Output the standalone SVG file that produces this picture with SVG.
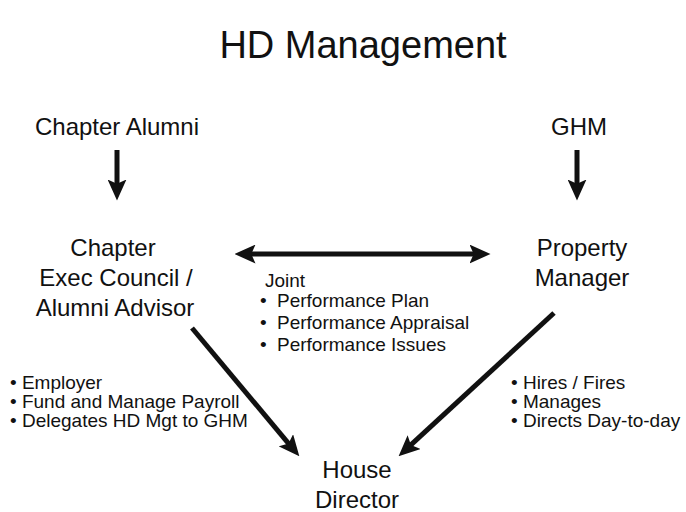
<svg xmlns="http://www.w3.org/2000/svg" width="686" height="512" viewBox="0 0 686 512">
  <defs>
    <style>
      text { font-family: "Liberation Sans", Arial, sans-serif; fill: #111; }
      .title { font-size: 38px; text-anchor: middle; }
      .label { font-size: 24px; text-anchor: middle; }
      .item { font-size: 19px; }
      .conn { stroke: #111; stroke-width: 5; fill: none; }
    </style>
    <marker id="head" viewBox="0 0 20 18" refX="10" refY="9" markerWidth="21" markerHeight="19" markerUnits="userSpaceOnUse" orient="auto-start-reverse">
      <path d="M0,0 L20,9 L0,18 L4,9 z" fill="#111"/>
    </marker>
  </defs>
  <rect width="686" height="512" fill="#fff"/>

  <text class="title" x="363" y="58">HD Management</text>

  <g id="chapter-alumni">
    <text class="label" x="117" y="135">Chapter Alumni</text>
  </g>
  <g id="ghm">
    <text class="label" x="579" y="135">GHM</text>
  </g>
  <g id="chapter-exec">
    <text class="label" x="113" y="256">Chapter</text>
    <text class="label" x="116" y="286">Exec Council /</text>
    <text class="label" x="115" y="316">Alumni Advisor</text>
  </g>
  <g id="property-manager">
    <text class="label" x="582" y="256">Property</text>
    <text class="label" x="582" y="286">Manager</text>
  </g>
  <g id="house-director">
    <text class="label" x="357" y="478">House</text>
    <text class="label" x="357" y="508">Director</text>
  </g>

  <g id="joint-notes">
    <text class="item" x="265" y="287">Joint</text>
    <text class="item" x="260" y="307">•</text>
    <text class="item" x="277" y="307">Performance Plan</text>
    <text class="item" x="260" y="329">•</text>
    <text class="item" x="277" y="329">Performance Appraisal</text>
    <text class="item" x="260" y="351">•</text>
    <text class="item" x="277" y="351">Performance Issues</text>
  </g>

  <g id="chapter-duties">
    <text class="item" x="10" y="389">• Employer</text>
    <text class="item" x="10" y="408">• Fund and Manage Payroll</text>
    <text class="item" x="10" y="427">• Delegates HD Mgt to GHM</text>
  </g>

  <g id="manager-duties">
    <text class="item" x="511" y="389">• Hires / Fires</text>
    <text class="item" x="511" y="408">• Manages</text>
    <text class="item" x="511" y="427">• Directs Day-to-day</text>
  </g>

  <g id="connectors">
    <line class="conn" x1="117" y1="150" x2="117" y2="190" marker-end="url(#head)"/>
    <line class="conn" x1="577" y1="150" x2="577" y2="190" marker-end="url(#head)"/>
    <line class="conn" x1="245" y1="254" x2="480" y2="254" marker-start="url(#head)" marker-end="url(#head)"/>
    <line class="conn" x1="192" y1="328" x2="292.6" y2="448.3" marker-end="url(#head)"/>
    <line class="conn" x1="554" y1="313" x2="406.3" y2="449.2" marker-end="url(#head)"/>
  </g>
</svg>
